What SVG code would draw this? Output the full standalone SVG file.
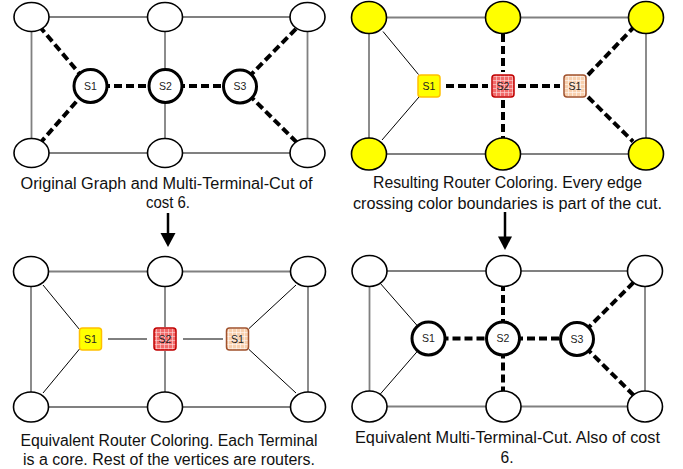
<svg xmlns="http://www.w3.org/2000/svg" width="683" height="469" viewBox="0 0 683 469">
<style>
.g{stroke:#808080;stroke-width:1.8;fill:none}
.t{stroke:#000;stroke-width:1;fill:none}
.d{stroke:#000;stroke-width:4;stroke-dasharray:8 4;fill:none}
.n{fill:#fff;stroke:#000;stroke-width:1.6}
.y{fill:#ffff00;stroke:#000;stroke-width:1.6}
.s{fill:#fff;stroke:#000;stroke-width:3}
.lb{font-family:"Liberation Sans",Arial,sans-serif;font-size:10.5px;fill:#222;text-anchor:middle}
.cap{font-family:"Liberation Sans",Arial,sans-serif;font-size:16px;fill:#111;text-anchor:middle}
.ar{stroke:#000;stroke-width:2.5;fill:none}
</style>
<defs>
<pattern id="gr" width="4" height="4" patternUnits="userSpaceOnUse">
<rect width="4" height="4" fill="#f26a6a"/>
<path d="M0 0.5H4M0.5 0V4" stroke="#fff" stroke-width="0.6" opacity="0.75"/>
</pattern>
<pattern id="gb" width="4" height="4" patternUnits="userSpaceOnUse">
<rect width="4" height="4" fill="#f8d0ae"/>
<path d="M0 0.5H4M0.5 0V4" stroke="#fff" stroke-width="0.6" opacity="0.9"/>
</pattern>
</defs>

<g id="connectors">
<!-- Panel 1 -->
<path class="g" d="M31.5 17H307.5M31.5 153H307.5M31.5 17V153M307.5 17V153M165 17V86M165 86V153"/>
<path class="d" d="M31.5 17L90 86M31.5 153L90 86M90 86H165M165 86H240M240 86L307.5 17M240 86L307.5 153"/>
<!-- Panel 2 -->
<path class="g" d="M369 17.5H646M369 154H646M369 17.5V154M646 17.5V154"/>
<path class="t" d="M383 31.5L418.5 74.5M419 97L382 140"/>
<path class="d" d="M503 34V72M503 100V138M446 86H488M518 86H560M588 75L633 28M588 97L633 141.5"/>
<!-- Panel 3 -->
<path class="g" d="M31 271.5H308M31 407H308M31 271.5V407M308 271.5V407M165 271.5V327M165 351V407"/>
<path class="t" d="M43 285L79.5 329.5M79.5 349L43 393M108 339H147M183 339H223M249 328.5L296 285M249 349.5L296 393"/>
<!-- Panel 4 -->
<path class="g" d="M369.5 271H645M369.5 406.5H645M369.5 271V406.5M645 271V406.5"/>
<path class="t" d="M369.5 271L428.5 338.5M369.5 406.5L428.5 338.5"/>
<path class="d" d="M428.5 338.5H503M503 338.5H577M503 271V338.5M503 338.5V406.5M577 339L645 271M577 339L645 406.5"/>
<!-- Arrows -->
<path class="ar" d="M168 213V236"/>
<path d="M160.5 233H175.5L168 247Z" fill="#000"/>
<path class="ar" d="M505 212V239"/>
<path d="M498 236.5H512L505 250Z" fill="#000"/>
</g>

<!-- Panel 1 nodes -->
<g id="p1-tl"><ellipse class="n" cx="31.5" cy="17" rx="17.5" ry="14.5"/></g>
<g id="p1-tm"><ellipse class="n" cx="165" cy="17" rx="17.5" ry="14.5"/></g>
<g id="p1-tr"><ellipse class="n" cx="307.5" cy="17" rx="17.5" ry="14.5"/></g>
<g id="p1-bl"><ellipse class="n" cx="31.5" cy="153" rx="17.5" ry="14.5"/></g>
<g id="p1-bm"><ellipse class="n" cx="165" cy="153" rx="17.5" ry="14.5"/></g>
<g id="p1-br"><ellipse class="n" cx="307.5" cy="153" rx="17.5" ry="14.5"/></g>
<g id="p1-s1"><circle class="s" cx="90.5" cy="86" r="16.5"/><text class="lb" x="90.5" y="89.5">S1</text></g>
<g id="p1-s2"><circle class="s" cx="165.5" cy="86" r="16.5"/><text class="lb" x="165.5" y="89.5">S2</text></g>
<g id="p1-s3"><circle class="s" cx="240" cy="86.5" r="16.5"/><text class="lb" x="240" y="90">S3</text></g>
<g id="p1-caption">
<text class="cap" x="166.5" y="189" textLength="292" lengthAdjust="spacingAndGlyphs">Original Graph and Multi-Terminal-Cut of</text>
<text class="cap" x="168" y="208" textLength="44" lengthAdjust="spacingAndGlyphs">cost 6.</text>
</g>

<!-- Panel 2 nodes -->
<g id="p2-tl"><ellipse class="y" cx="369" cy="17.5" rx="17.5" ry="16"/></g>
<g id="p2-tm"><ellipse class="y" cx="503" cy="17.5" rx="17.5" ry="16"/></g>
<g id="p2-tr"><ellipse class="y" cx="646" cy="17.5" rx="17.5" ry="16"/></g>
<g id="p2-bl"><ellipse class="y" cx="369" cy="154" rx="17.5" ry="16"/></g>
<g id="p2-bm"><ellipse class="y" cx="503" cy="154" rx="17.5" ry="16"/></g>
<g id="p2-br"><ellipse class="y" cx="646" cy="154" rx="17.5" ry="16"/></g>
<g id="p2-s1"><rect x="418" y="75" width="22" height="22" rx="3" fill="#ffff00" stroke="#ffc000" stroke-width="1.5"/><text class="lb" x="429" y="89.5">S1</text></g>
<g id="p2-s2"><rect x="492" y="75" width="22" height="22" rx="3" fill="url(#gr)" stroke="#c00000" stroke-width="1.5"/><text class="lb" x="503" y="89.5">S2</text></g>
<g id="p2-s1b"><rect x="564" y="75" width="22" height="22" rx="3" fill="url(#gb)" stroke="#a0522d" stroke-width="1.5"/><text class="lb" x="575" y="89.5">S1</text></g>
<g id="p2-caption">
<text class="cap" x="507.5" y="188" textLength="269" lengthAdjust="spacingAndGlyphs">Resulting Router Coloring. Every edge</text>
<text class="cap" x="507.5" y="209" textLength="309" lengthAdjust="spacingAndGlyphs">crossing color boundaries is part of the cut.</text>
</g>

<!-- Panel 3 nodes -->
<g id="p3-tl"><ellipse class="n" cx="31" cy="271.5" rx="17.5" ry="15"/></g>
<g id="p3-tm"><ellipse class="n" cx="165" cy="271.5" rx="17.5" ry="15"/></g>
<g id="p3-tr"><ellipse class="n" cx="308" cy="271.5" rx="17.5" ry="15"/></g>
<g id="p3-bl"><ellipse class="n" cx="31" cy="407" rx="17.5" ry="15"/></g>
<g id="p3-bm"><ellipse class="n" cx="165" cy="407" rx="17.5" ry="15"/></g>
<g id="p3-br"><ellipse class="n" cx="308" cy="407" rx="17.5" ry="15"/></g>
<g id="p3-s1"><rect x="79.5" y="328" width="22" height="22" rx="3" fill="#ffff00" stroke="#ffc000" stroke-width="1.5"/><text class="lb" x="90.5" y="342.5">S1</text></g>
<g id="p3-s2"><rect x="154" y="328" width="22" height="22" rx="3" fill="url(#gr)" stroke="#c00000" stroke-width="1.5"/><text class="lb" x="165" y="342.5">S2</text></g>
<g id="p3-s1b"><rect x="226.5" y="328" width="22" height="22" rx="3" fill="url(#gb)" stroke="#a0522d" stroke-width="1.5"/><text class="lb" x="237.5" y="342.5">S1</text></g>
<g id="p3-caption">
<text class="cap" x="169" y="446" textLength="297" lengthAdjust="spacingAndGlyphs">Equivalent Router Coloring. Each Terminal</text>
<text class="cap" x="169" y="465" textLength="292" lengthAdjust="spacingAndGlyphs">is a core. Rest of the vertices are routers.</text>
</g>

<!-- Panel 4 nodes -->
<g id="p4-tl"><ellipse class="n" cx="369.5" cy="271" rx="17.5" ry="15.5"/></g>
<g id="p4-tm"><ellipse class="n" cx="503.5" cy="271" rx="17.5" ry="15.5"/></g>
<g id="p4-tr"><ellipse class="n" cx="645" cy="271" rx="17.5" ry="15.5"/></g>
<g id="p4-bl"><ellipse class="n" cx="369.5" cy="406.5" rx="17.5" ry="15.5"/></g>
<g id="p4-bm"><ellipse class="n" cx="503.5" cy="406.5" rx="17.5" ry="15.5"/></g>
<g id="p4-br"><ellipse class="n" cx="645" cy="406.5" rx="17.5" ry="15.5"/></g>
<g id="p4-s1"><circle class="s" cx="428.5" cy="338.5" r="16.5"/><text class="lb" x="428.5" y="342">S1</text></g>
<g id="p4-s2"><circle class="s" cx="503" cy="338.5" r="16.5"/><text class="lb" x="503" y="342">S2</text></g>
<g id="p4-s3"><circle class="s" cx="577" cy="339" r="16.5"/><text class="lb" x="577" y="342.5">S3</text></g>
<g id="p4-caption">
<text class="cap" x="507.5" y="443" textLength="305" lengthAdjust="spacingAndGlyphs">Equivalent Multi-Terminal-Cut. Also of cost</text>
<text class="cap" x="507" y="463" textLength="13" lengthAdjust="spacingAndGlyphs">6.</text>
</g>
</svg>
